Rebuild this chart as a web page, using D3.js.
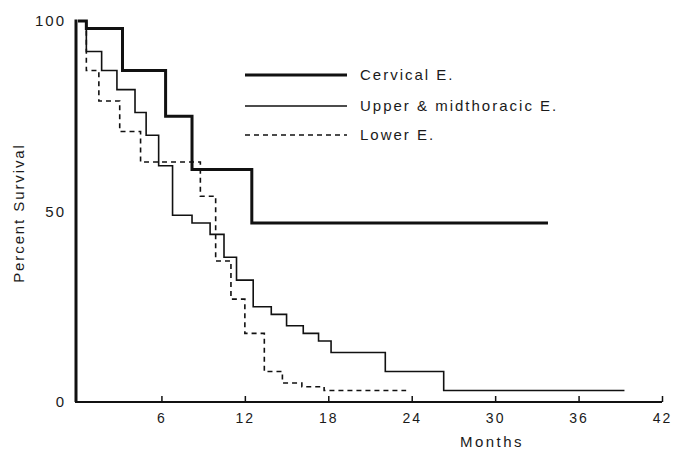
<!DOCTYPE html>
<html>
<head>
<meta charset="utf-8">
<script src="https://cdn.jsdelivr.net/npm/d3@7"></script>
<style>
  body { margin: 0; background: #fff; }
  text { font-family: "Liberation Sans", Arial, sans-serif; fill: #1a1a1a; }
</style>
</head>
<body>
<div class="chart"></div>
<script>
var svgWidth = 675;
var svgHeight = 450;

// step curves: month where each level starts, and percent survival
var cervicalMonths = [0, 0.6, 3.2, 6.3, 8.2, 12.5, 33.8];
var cervicalPct    = [100, 98, 87, 75, 61, 47, 47];

var upperMonths = [0, 0.6, 1.7, 2.8, 4.1, 4.9, 5.8, 6.8, 8.2, 9.5, 10.5, 11.4, 12.6, 13.9, 15.0, 16.2, 17.3, 18.2, 22.1, 26.3, 39.3];
var upperPct    = [100, 92, 87, 82, 76, 70, 62, 49, 47, 44, 38, 32, 25, 23, 20, 18, 16, 13, 8, 3, 3];

var lowerMonths = [0, 0.6, 1.5, 3.0, 4.5, 8.8, 9.9, 11.0, 12.0, 13.4, 14.7, 16.1, 17.7, 23.6];
var lowerPct    = [100, 87, 79, 71, 63, 54, 37, 27, 18, 8, 5, 4, 3, 3];

var legendLabels = ["Cervical E.", "Upper & midthoracic E.", "Lower E."];
var xTicks = [6, 12, 18, 24, 30, 36, 42];
var yTicks = [0, 50, 100];

var svg = d3.select(".chart")
  .append("svg")
  .attr("width", svgWidth)
  .attr("height", svgHeight);

var x = d3.scaleLinear().domain([0, 42]).range([78, 662]);
var y = d3.scaleLinear().domain([0, 100]).range([402, 21]);

// x axis with ticks pointing up
var xAxis = svg.append("g")
  .attr("transform", `translate(0, ${y(0)})`)
  .call(d3.axisBottom(x).tickValues(xTicks).tickSizeInner(-6).tickSizeOuter(0).tickPadding(11));
xAxis.select(".domain").attr("stroke", "#111").attr("stroke-width", 2)
  .attr("d", `M${x(0) - 3},0H${x(42)}`);
xAxis.selectAll(".tick line").attr("stroke", "#111").attr("stroke-width", 1.5);
xAxis.selectAll("text").attr("font-size", 14).attr("letter-spacing", 2);

// y axis, no tick marks
var yAxis = svg.append("g")
  .attr("transform", `translate(${x(0) - 2}, 0)`)
  .call(d3.axisLeft(y).tickValues(yTicks).tickSize(0).tickPadding(10));
yAxis.select(".domain").attr("stroke", "#111").attr("stroke-width", 3)
  .attr("d", `M0,${y(0)}V${y(100) - 1.5}`);
yAxis.selectAll("text").attr("font-size", 15).attr("letter-spacing", 2);

svg.append("text")
  .attr("x", 492)
  .attr("y", 447)
  .attr("text-anchor", "middle")
  .attr("font-size", 15)
  .attr("letter-spacing", 2.5)
  .text("Months");

svg.append("text")
  .attr("transform", "rotate(-90)")
  .attr("x", -213)
  .attr("y", 24)
  .attr("text-anchor", "middle")
  .attr("font-size", 15)
  .attr("letter-spacing", 1.9)
  .text("Percent Survival");

// curves
var series = [
  { m: cervicalMonths, p: cervicalPct, w: 3, dash: null },
  { m: upperMonths, p: upperPct, w: 1.6, dash: null },
  { m: lowerMonths, p: lowerPct, w: 1.6, dash: "5,4" }
];

var line = d3.line()
  .x(d => x(d[0]))
  .y(d => y(d[1]))
  .curve(d3.curveStepAfter);

series.forEach(function(s) {
  var pts = s.m.map((m, i) => [m, s.p[i]]);
  svg.append("path")
    .datum(pts)
    .attr("d", line)
    .attr("fill", "none")
    .attr("stroke", "#111")
    .attr("stroke-width", s.w)
    .attr("stroke-dasharray", s.dash);
});

// legend
var legend = svg.append("g");
var legendY = [75, 106, 135];
legendLabels.forEach(function(label, i) {
  legend.append("line")
    .attr("x1", 245).attr("x2", 347)
    .attr("y1", legendY[i]).attr("y2", legendY[i])
    .attr("stroke", "#111")
    .attr("stroke-width", series[i].w)
    .attr("stroke-dasharray", series[i].dash);
  legend.append("text")
    .attr("x", 360)
    .attr("y", legendY[i] + 5)
    .attr("font-size", 15)
    .attr("letter-spacing", 2)
    .text(label);
});
</script>
</body>
</html>
